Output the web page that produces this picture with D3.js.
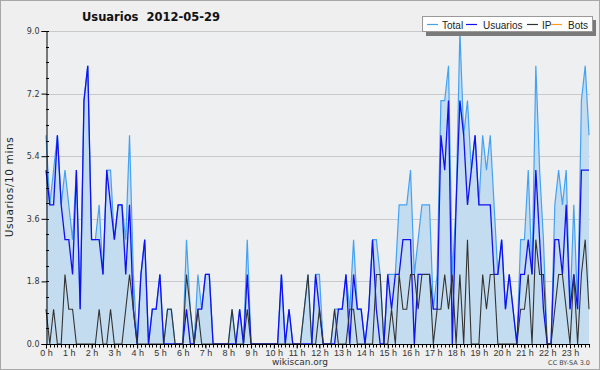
<!DOCTYPE html>
<html>
<head>
<meta charset="utf-8">
<script src="https://cdn.jsdelivr.net/npm/d3@7"></script>
<style>
  body { margin: 0; background: #fff; }
  svg text { font-family: "DejaVu Sans", sans-serif; }
</style>
</head>
<body>
<div id="chart"></div>
<script>
// hour labels and y ticks
const hourLabels = ["0 h","1 h","2 h","3 h","4 h","5 h","6 h","7 h","8 h","9 h","10 h","11 h",
  "12 h","13 h","14 h","15 h","16 h","17 h","18 h","19 h","20 h","21 h","22 h","23 h"];
const yTicks = [0, 1.8, 3.6, 5.4, 7.2, 9.0];

// one value per 10 minutes (144 per day)
const total = [6,4,5,6,4,5,4,3,5,1,7,8,3,3,4,2,5,5,3,4,4,3,6,2,
  0,2,3,0,1,1,2,0,1,1,0,0,0,3,1,0,2,1,2,2,0,0,0,0,
  0,1,0,1,0,3,0,0,0,0,0,0,0,0,2,0,1,0,0,0,1,2,0,2,
  2,0,0,0,1,1,1,2,1,3,1,1,0,1,3,3,2,0,2,2,2,4,4,4,
  5,2,3,4,4,4,1,2,7,7,8,2,4,9,6,7,5,6,4,6,5,6,4,2,
  3,1,2,1,0,3,3,5,2,8,5,3,0,0,4,5,4,5,1,4,1,7,8,6];
const usuarios = [5,4,4,6,4,3,3,2,5,1,7,8,3,3,3,2,5,4,3,4,4,2,4,1,
  0,2,3,0,1,1,2,0,0,0,0,0,0,1,0,0,1,1,2,2,0,0,0,0,
  0,0,0,1,0,2,0,0,0,0,0,0,0,0,2,0,1,0,0,0,0,0,0,2,
  1,0,0,0,0,1,1,2,0,2,1,1,0,1,3,1,0,0,2,1,2,2,3,3,
  3,0,2,2,2,2,1,1,6,5,7,0,4,7,6,4,5,6,4,4,4,4,2,2,
  3,1,2,1,0,2,2,3,2,5,3,1,0,0,3,3,2,4,1,2,1,5,5,5];
const ip = [1,0,1,0,0,2,1,1,0,0,0,0,0,0,1,0,0,1,0,0,0,1,2,1,
  0,0,0,0,0,0,0,0,1,1,0,0,0,2,1,0,1,0,0,0,0,0,0,0,
  0,1,0,0,0,1,0,0,0,0,0,0,0,0,0,0,0,0,0,0,1,2,0,0,
  1,0,0,0,1,0,0,0,1,1,0,0,0,0,0,2,2,0,0,1,0,2,1,1,
  2,2,1,2,2,2,0,1,1,2,1,2,0,2,0,3,0,0,0,2,1,2,2,0,
  0,0,0,0,0,1,1,2,0,3,2,2,0,0,1,2,2,1,0,2,0,2,3,1];
const bots = [0,0,0,0,0,0,0,0,0,0,0,0,0,0,0,0,0,0,0,0,0,0,0,0,
  0,0,0,0,0,0,0,0,0,0,0,0,0,0,0,0,0,0,0,0,0,0,0,0,
  0,0,0,0,0,0,0,0,0,0,0,0,0,0,0,0,0,0,0,0,0,0,0,0,
  0,0,0,0,0,0,0,0,0,0,0,0,0,0,0,0,0,0,0,0,0,0,0,0,
  0,0,0,0,0,0,0,0,0,0,0,0,0,0,0,0,0,0,0,0,0,0,0,0,
  0,0,0,0,0,0,0,0,0,0,0,0,0,0,0,0,0,0,0,0,0,0,0,0];

const seriesNames = ["Total", "Usuarios", "IP", "Bots"];
const seriesColors = ["#45a2f2", "#1010f0", "#333333", "#ff9a1a"];

var W = 600, H = 370;

var svg = d3.select("#chart").append("svg")
    .attr("width", W).attr("height", H);

// background + frame
svg.append("rect").attr("x", 0.5).attr("y", 0.5)
    .attr("width", W - 1).attr("height", H - 1)
    .attr("fill", "#efefef").attr("stroke", "#a8a8a8");

var x = d3.scaleLinear().domain([0, 143]).range([46, 589]);
var y = d3.scaleLinear().domain([0, 9]).range([344, 31]);

// plot background
svg.append("rect").attr("x", 46).attr("y", 31)
    .attr("width", 544).attr("height", 313)
    .attr("fill", "#eeeff1");

// grid lines
svg.append("g").selectAll("line").data(yTicks.slice(1)).enter().append("line")
    .attr("x1", 46).attr("x2", 590)
    .attr("y1", d => Math.round(y(d)) + 0.5).attr("y2", d => Math.round(y(d)) + 0.5)
    .attr("stroke", "#c9c9cb");

var idx = d3.range(total.length);

var line = (arr) => d3.line().x(i => x(i)).y(i => y(arr[i]));

// Bots first, hidden under the axis
svg.append("path").datum(idx)
    .attr("d", line(bots)).attr("fill", "none")
    .attr("stroke", seriesColors[3]).attr("stroke-width", 1.2);

// Total area + line
svg.append("path").datum(idx)
    .attr("d", d3.area().x(i => x(i)).y0(y(0)).y1(i => y(total[i])))
    .attr("fill", "#c4dcf0");
svg.append("path").datum(idx)
    .attr("d", line(total)).attr("fill", "none")
    .attr("stroke", seriesColors[0]).attr("stroke-width", 1.2);

svg.append("path").datum(idx)
    .attr("d", line(usuarios)).attr("fill", "none")
    .attr("stroke", seriesColors[1]).attr("stroke-width", 1.3);

svg.append("path").datum(idx)
    .attr("d", line(ip)).attr("fill", "none")
    .attr("stroke", seriesColors[2]).attr("stroke-width", 1.1);

// Y axis
var yAxis = svg.append("g").attr("transform", "translate(46.5,0)")
    .call(d3.axisLeft(y).tickValues(yTicks).tickFormat(d3.format(".1f")).tickSize(5).tickPadding(2));
yAxis.select(".domain").attr("stroke", "#000");
yAxis.selectAll("text").attr("font-size", 8).attr("fill", "#333")
    .style("font-family", "DejaVu Sans, sans-serif");

// minor y ticks, pointing inward
svg.append("g").selectAll("line").data(d3.range(0, 9.01, 0.45)).enter().append("line")
    .attr("x1", 46).attr("x2", 49)
    .attr("y1", d => Math.round(y(d)) + 0.5).attr("y2", d => Math.round(y(d)) + 0.5)
    .attr("stroke", "#000");

// X axis: 10-minute ticks, hour labels
var xAxis = svg.append("g").attr("transform", "translate(0,344.5)")
    .call(d3.axisBottom(x).tickValues(d3.range(0, 144, 6))
        .tickFormat((d, i) => hourLabels[i]).tickSize(4).tickPadding(1));
xAxis.select(".domain").attr("d", "M46,0H590").attr("stroke", "#000");
xAxis.selectAll("text").attr("font-size", 9).attr("fill", "#333")
    .style("font-family", "Liberation Sans, Arial, sans-serif");
svg.append("g").attr("transform", "translate(0,344.5)")
    .selectAll("line").data(d3.range(0, 144)).enter().append("line")
    .attr("x1", i => Math.round(x(i)) + 0.5).attr("x2", i => Math.round(x(i)) + 0.5)
    .attr("y1", 0).attr("y2", 3).attr("stroke", "#000");

// title
svg.append("text").attr("x", 151).attr("y", 21)
    .attr("text-anchor", "middle").attr("font-size", 11.5).attr("font-weight", "bold")
    .attr("fill", "#111").style("white-space", "pre")
    .text("Usuarios  2012-05-29");

// y label
svg.append("text")
    .attr("transform", "translate(13,187) rotate(-90)")
    .attr("text-anchor", "middle").attr("font-size", 10.5).attr("fill", "#222")
    .style("letter-spacing", "0.6px")
    .text("Usuarios/10 mins");

// footer
svg.append("text").attr("x", 300).attr("y", 365)
    .attr("text-anchor", "middle").attr("font-size", 9).attr("fill", "#333")
    .text("wikiscan.org");
svg.append("text").attr("x", 590).attr("y", 365)
    .attr("text-anchor", "end").attr("font-size", 6.5).attr("fill", "#444")
    .text("CC BY-SA 3.0");

// legend with shadow
var lg = svg.append("g");
lg.append("rect").attr("x", 426).attr("y", 20).attr("width", 170).attr("height", 16)
    .attr("fill", "#7a7a7a");
lg.append("rect").attr("x", 422.5).attr("y", 16.5).attr("width", 170).attr("height", 15)
    .attr("fill", "#fff").attr("stroke", "#999");
var legendX = [427, 466, 527, 551];
var legendTextX = [442, 483, 542, 568];
seriesNames.forEach(function(name, k) {
    lg.append("line").attr("x1", legendX[k]).attr("x2", legendX[k] + 11)
        .attr("y1", 24.5).attr("y2", 24.5)
        .attr("stroke", seriesColors[k]).attr("stroke-width", 1.2);
    lg.append("text").attr("x", legendTextX[k]).attr("y", 28.5)
        .attr("font-size", 10).attr("fill", "#222")
        .style("font-family", "Liberation Sans, Arial, sans-serif")
        .text(name);
});
</script>
</body>
</html>
